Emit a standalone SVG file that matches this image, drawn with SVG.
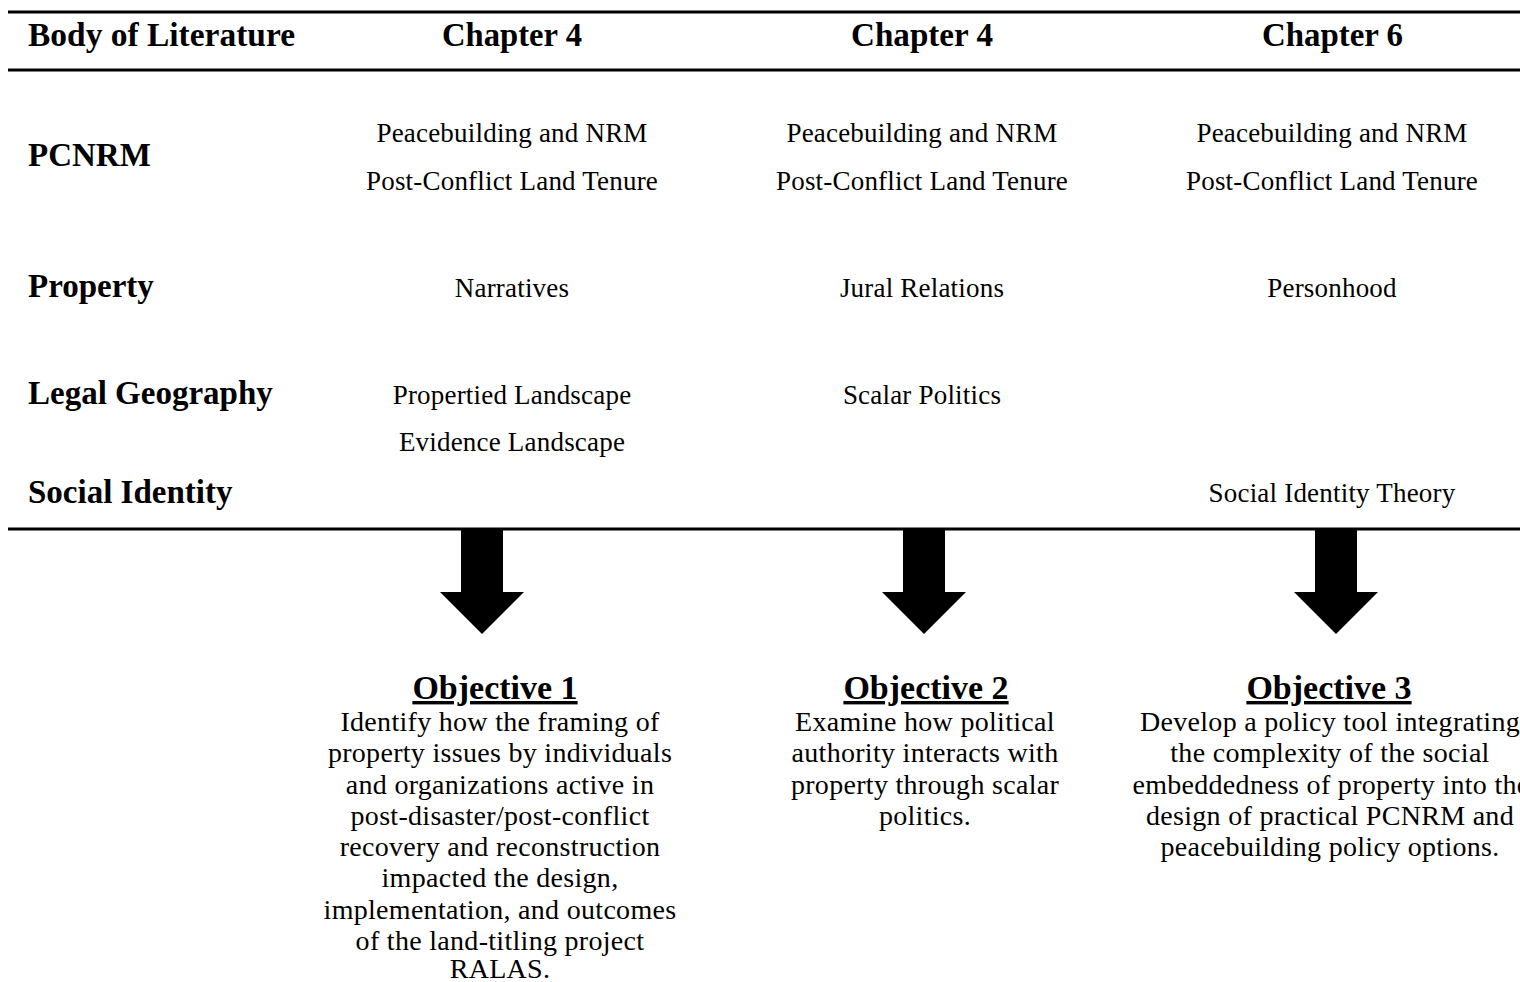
<svg xmlns="http://www.w3.org/2000/svg" width="1520" height="982" viewBox="0 0 1520 982">
  <style>
    .hdr { font-family: "Liberation Serif", "DejaVu Serif", serif; font-weight: bold; font-size: 34px; fill: #000; }
    .lbl { font-family: "Liberation Serif", "DejaVu Serif", serif; font-weight: bold; font-size: 33px; fill: #000; }
    .cell { font-family: "Liberation Serif", "DejaVu Serif", serif; font-size: 27px; letter-spacing: 0.2px; fill: #000; text-anchor: middle; }
    .objt { font-family: "Liberation Serif", "DejaVu Serif", serif; font-weight: bold; font-size: 34px; fill: #000; text-anchor: middle; text-decoration: underline; }
    .objb { font-family: "Liberation Serif", "DejaVu Serif", serif; font-size: 28px; letter-spacing: 0.3px; fill: #000; text-anchor: middle; }
    .rule { stroke: #000; stroke-width: 3; }
    .arrow { fill: #000; }
  </style>
  <rect width="1520" height="982" fill="#fff"/>

  <g id="rules">
    <line class="rule" x1="8" y1="12" x2="1520" y2="12"/>
    <line class="rule" x1="8" y1="70" x2="1520" y2="70"/>
    <line class="rule" x1="8" y1="529" x2="1520" y2="529"/>
  </g>

  <g id="header">
    <text class="hdr" x="28" y="46" textLength="267" lengthAdjust="spacingAndGlyphs">Body of Literature</text>
    <text class="hdr" x="442" y="46" textLength="140" lengthAdjust="spacingAndGlyphs">Chapter 4</text>
    <text class="hdr" x="851" y="46" textLength="142" lengthAdjust="spacingAndGlyphs">Chapter 4</text>
    <text class="hdr" x="1262" y="46" textLength="141" lengthAdjust="spacingAndGlyphs">Chapter 6</text>
  </g>

  <g id="row-pcnrm">
    <text class="lbl" x="28" y="166">PCNRM</text>
    <g id="pcnrm-ch4a">
      <text class="cell" x="512" y="142">Peacebuilding and NRM</text>
      <text class="cell" x="512" y="190">Post-Conflict Land Tenure</text>
    </g>
    <g id="pcnrm-ch4b">
      <text class="cell" x="922" y="142">Peacebuilding and NRM</text>
      <text class="cell" x="922" y="190">Post-Conflict Land Tenure</text>
    </g>
    <g id="pcnrm-ch6">
      <text class="cell" x="1332" y="142">Peacebuilding and NRM</text>
      <text class="cell" x="1332" y="190">Post-Conflict Land Tenure</text>
    </g>
  </g>

  <g id="row-property">
    <text class="lbl" x="28" y="297">Property</text>
    <text id="property-ch4a" class="cell" x="512" y="297">Narratives</text>
    <text id="property-ch4b" class="cell" x="922" y="297">Jural Relations</text>
    <text id="property-ch6" class="cell" x="1332" y="297">Personhood</text>
  </g>

  <g id="row-legal">
    <text class="lbl" x="28" y="404">Legal Geography</text>
    <g id="legal-ch4a">
      <text class="cell" x="512" y="404">Propertied Landscape</text>
      <text class="cell" x="512" y="451">Evidence Landscape</text>
    </g>
    <text id="legal-ch4b" class="cell" x="922" y="404">Scalar Politics</text>
  </g>

  <g id="row-social">
    <text class="lbl" x="28" y="503">Social Identity</text>
    <text id="social-ch6" class="cell" x="1332" y="502">Social Identity Theory</text>
  </g>

  <g id="connectors">
    <polygon class="arrow" points="461,529 503,529 503,592 524,592 482,634 440,592 461,592"/>
    <polygon class="arrow" points="903,529 945,529 945,592 966,592 924,634 882,592 903,592"/>
    <polygon class="arrow" points="1315,529 1357,529 1357,592 1378,592 1336,634 1294,592 1315,592"/>
  </g>

  <g id="objective-1">
    <text class="objt" x="495" y="699">Objective 1</text>
    <text class="objb" x="500" y="731">Identify how the framing of</text>
    <text class="objb" x="500" y="762">property issues by individuals</text>
    <text class="objb" x="500" y="793.5">and organizations active in</text>
    <text class="objb" x="500" y="825">post-disaster/post-conflict</text>
    <text class="objb" x="500" y="856">recovery and reconstruction</text>
    <text class="objb" x="500" y="887">impacted the design,</text>
    <text class="objb" x="500" y="918.5">implementation, and outcomes</text>
    <text class="objb" x="500" y="949.5">of the land-titling project</text>
    <text class="objb" x="500" y="978">RALAS.</text>
  </g>

  <g id="objective-2">
    <text class="objt" x="926" y="699">Objective 2</text>
    <text class="objb" x="925" y="731">Examine how political</text>
    <text class="objb" x="925" y="762">authority interacts with</text>
    <text class="objb" x="925" y="793.5">property through scalar</text>
    <text class="objb" x="925" y="825">politics.</text>
  </g>

  <g id="objective-3">
    <text class="objt" x="1329" y="699">Objective 3</text>
    <text class="objb" x="1330" y="731">Develop a policy tool integrating</text>
    <text class="objb" x="1330" y="762">the complexity of the social</text>
    <text class="objb" x="1331" y="793.5">embeddedness of property into the</text>
    <text class="objb" x="1330" y="825">design of practical PCNRM and</text>
    <text class="objb" x="1330" y="856">peacebuilding policy options.</text>
  </g>
</svg>
